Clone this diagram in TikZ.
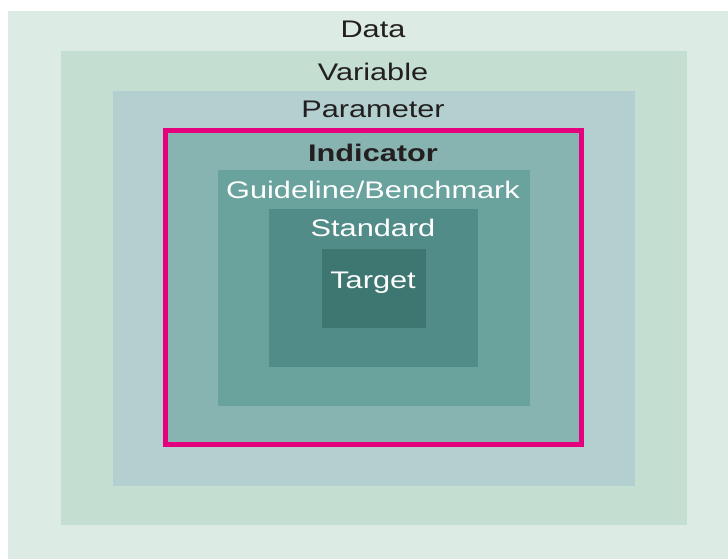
\documentclass[tikz,border=0pt]{standalone}
\usepackage{fontspec}
\setmainfont{Liberation Sans}
\usepackage{tikz}
\usetikzlibrary{calc}

\definecolor{datacol}{HTML}{DCEBE4}
\definecolor{varcol}{HTML}{C4DED1}
\definecolor{parcol}{HTML}{B3CFCF}
\definecolor{indcol}{HTML}{87B3B0}
\definecolor{guidecol}{HTML}{6AA29E}
\definecolor{stdcol}{HTML}{528C88}
\definecolor{tgtcol}{HTML}{3E7672}
\definecolor{framecol}{HTML}{E5007D}
\definecolor{darktext}{HTML}{231F20}

\tikzset{
    layer label/.style={anchor=base, inner sep=0pt, outer sep=0pt, xscale=1.28,
        font=\fontsize{24}{28}\selectfont, text=darktext},
    inner label/.style={layer label, text=white}
}

\begin{document}
\begin{tikzpicture}[x=1pt, y=-1pt]
    \useasboundingbox (0,0) rectangle (728,559);
    % nested layers
    \fill[datacol] (8,11) rectangle (728,559);
    \fill[varcol] (61,51) rectangle (687,525);
    \fill[parcol] (113,91) rectangle (635,486);
    \fill[indcol] (163,128) rectangle (584,447);
    \draw[framecol, line width=5pt] (165.5,130.5) rectangle (581.5,444.5);
    \fill[guidecol] (218,170) rectangle (530,406);
    \fill[stdcol] (269,209) rectangle (478,367);
    \fill[tgtcol] (322,249) rectangle (426,328);

    % labels
    \node[layer label] (data) at (373,38) {Data};
    \node[layer label] (variable) at (373,81) {Variable};
    \node[layer label] (parameter) at (373,118) {Parameter};
    \node[layer label, font=\fontsize{24}{28}\selectfont\bfseries] (indicator) at (373,161) {Indicator};
    \node[inner label] (guideline) at (373,198) {Guideline/Benchmark};
    \node[inner label] (standard) at (373,236) {Standard};
    \node[inner label] (target) at (373,288) {Target};
\end{tikzpicture}
\end{document}
